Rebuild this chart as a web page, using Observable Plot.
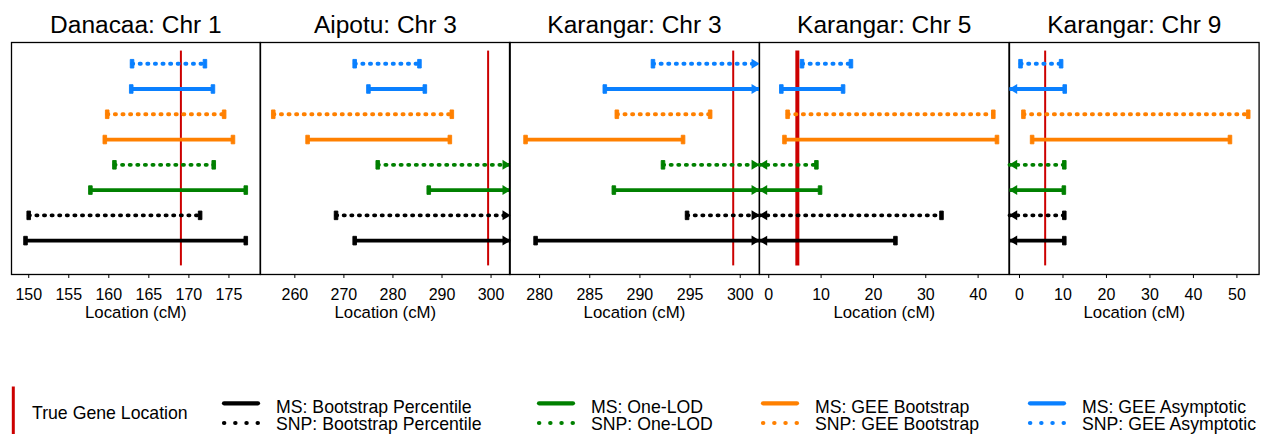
<!DOCTYPE html>
<html><head><meta charset="utf-8">
<script src="https://cdn.jsdelivr.net/npm/d3@7"></script>
<script src="https://cdn.jsdelivr.net/npm/@observablehq/plot@0.6"></script>
<style>
body{margin:0;background:#fff;font-family:"Liberation Sans",Arial,sans-serif;}
#wrap{position:relative;width:1262px;height:434px;overflow:hidden;background:#fff;}
#wrap svg{position:absolute;overflow:visible;background:transparent;}
</style></head><body><div id="wrap"></div>
<script>
// ---- data ----
const methods = ["MS: Bootstrap Percentile","SNP: Bootstrap Percentile","MS: One-LOD","SNP: One-LOD",
                 "MS: GEE Bootstrap","SNP: GEE Bootstrap","MS: GEE Asymptotic","SNP: GEE Asymptotic"];
const methodColors = ["#000000","#000000","#008000","#008000","#ff8000","#ff8000","#0a80ff","#0a80ff"];
const methodDotted = [false,true,false,true,false,true,false,true];
const panelTitles = ["Danacaa: Chr 1","Aipotu: Chr 3","Karangar: Chr 3","Karangar: Chr 5","Karangar: Chr 9"];
const trueLocations = [169.0, 299.4, 299.3, 5.46, 5.9];
// null = interval runs beyond the plotted range (drawn as an arrow)
const lowerDanacaaChr1 = [149.6, 150.0, 157.7, 160.7, 159.5, 159.8, 162.8, 162.9];
const upperDanacaaChr1 = [177.1, 171.4, 177.1, 173.1, 175.5, 174.4, 173.0, 172.0];
const lowerAipotuChr3  = [272.2, 268.4, 287.3, 276.9, 262.6, 255.6, 275.0, 272.2];
const upperAipotuChr3  = [null, null, null, null, 291.6, 292.0, 286.5, 285.4];
const lowerKarangarChr3 = [279.6, 294.7, 287.4, 292.3, 278.6, 287.7, 286.5, 291.3];
const upperKarangarChr3 = [null, null, null, null, 294.3, 297.0, null, null];
const lowerKarangarChr5 = [null, null, null, null, 3.0, 3.6, 2.4, 6.35];
const upperKarangarChr5 = [24.2, 33.0, 9.8, 9.1, 43.6, 42.9, 14.2, 15.7];
const lowerKarangarChr9 = [null, null, null, null, 2.9, 0.9, null, 0.23];
const upperKarangarChr9 = [10.3, 10.3, 10.2, 10.3, 48.4, 52.6, 10.4, 9.57];
const xDomains = [[147.85, 178.9],[253.0, 303.9],[277.0, 301.9],[-1.77, 45.9],[-2.3, 55.1]];
const xTicks = [[150,155,160,165,170,175],[260,270,280,290,300],[280,285,290,295,300],[0,10,20,30,40],[0,10,20,30,40,50]];

const lowers = [lowerDanacaaChr1, lowerAipotuChr3, lowerKarangarChr3, lowerKarangarChr5, lowerKarangarChr9];
const uppers = [upperDanacaaChr1, upperAipotuChr3, upperKarangarChr3, upperKarangarChr5, upperKarangarChr9];

// ---- layout ----
const frameLeft = [11, 259.7, 509.4, 759.2, 1008.7];
const frameWidth = [248.7, 249.7, 249.8, 249.5, 249.6];
const trueWidth = [2, 2, 2, 4, 2];
const pad = 15;

const arrowRight = {draw(c){c.moveTo(0.5,0);c.lineTo(-7.7,-5);c.lineTo(-7.7,5);c.closePath();}};
const arrowLeft  = {draw(c){c.moveTo(-0.5,0);c.lineTo(7.7,-5);c.lineTo(7.7,5);c.closePath();}};
const capBar     = {draw(c){c.moveTo(-1.8,-4.3);c.lineTo(1.8,-4.3);c.lineTo(1.8,4.3);c.lineTo(-1.8,4.3);c.closePath();}};

const wrap = document.getElementById("wrap");

panelTitles.forEach((title, p) => {
  const [d0, d1] = xDomains[p];
  const rows = methods.map((m, i) => ({
    method: m, row: i + 1, color: methodColors[i], dotted: methodDotted[i],
    lo: lowers[p][i], hi: uppers[p][i],
    x1: lowers[p][i] == null ? d0 : lowers[p][i],
    x2: uppers[p][i] == null ? d1 : uppers[p][i]
  }));
  const solid = rows.filter(d => !d.dotted), dotted = rows.filter(d => d.dotted);
  const caps = rows.flatMap(d => [
    ...(d.lo != null ? [{x: d.lo, row: d.row, color: d.color}] : []),
    ...(d.hi != null ? [{x: d.hi, row: d.row, color: d.color}] : [])]);
  const leftArrows = rows.filter(d => d.lo == null);
  const rightArrows = rows.filter(d => d.hi == null);

  const chart = Plot.plot({
    width: frameWidth[p] + 2 * pad, height: 330,
    marginLeft: pad, marginRight: pad, marginTop: 42, marginBottom: 56,
    style: {background: "transparent", overflow: "visible", fontFamily: "'Liberation Sans', Arial, sans-serif", fontSize: "16px", color: "#000"},
    x: {domain: xDomains[p], ticks: xTicks[p], tickSize: 4, tickPadding: 10.5, label: null},
    y: {domain: [-0.34, 8.84], axis: null},
    marks: [
      Plot.frame({stroke: "#000", strokeWidth: 1.3}),
      Plot.ruleX([trueLocations[p]], {x: d => d, y1: 0, y2: 8.5, stroke: "#cc0000", strokeWidth: trueWidth[p]}),
      Plot.link(solid, {x1: "x1", x2: "x2", y1: "row", y2: "row", stroke: "color", strokeWidth: 3.8}),
      Plot.link(dotted, {x1: "x1", x2: "x2", y1: "row", y2: "row", stroke: "color", strokeWidth: 3.8,
                         strokeDasharray: "1.2 6.4", strokeLinecap: "round"}),
      Plot.dot(caps, {x: "x", y: "row", fill: "color", stroke: "color", strokeWidth: 0.9, strokeLinejoin: "round", symbol: capBar}),
      Plot.dot(leftArrows, {x: "x1", y: "row", fill: "color", symbol: arrowLeft}),
      Plot.dot(rightArrows, {x: "x2", y: "row", fill: "color", symbol: arrowRight}),
      Plot.text([title], {frameAnchor: "top", dy: -17, fontSize: 24.5, lineAnchor: "middle", fill: "#000"}),
      Plot.text(["Location (cM)"], {frameAnchor: "bottom", dy: 38, fontSize: 16.8, lineAnchor: "middle", fill: "#000"})
    ]
  });
  chart.style.left = (frameLeft[p] - pad) + "px";
  chart.style.top = "0px";
  wrap.appendChild(chart);
});

// ---- legend ----
const legendX = [222, 537, 761, 1028];
const lg = d3.select(wrap).append("svg").attr("width", 1262).attr("height", 54)
  .style("left", "0px").style("top", "380px")
  .style("font-family", "'Liberation Sans', Arial, sans-serif").style("font-size", "17.7px");
lg.append("line").attr("x1", 13.3).attr("x2", 13.3).attr("y1", 6.5).attr("y2", 60)
  .attr("stroke", "#cc0000").attr("stroke-width", 3);
lg.append("text").attr("x", 32).attr("y", 39).text("True Gene Location");
[0, 2, 4, 6].forEach((m, k) => {
  const x = legendX[k];
  lg.append("line").attr("x1", x + 2).attr("x2", x + 36).attr("y1", 23.3).attr("y2", 23.3)
    .attr("stroke", methodColors[m]).attr("stroke-width", 4.2).attr("stroke-linecap", "round");
  lg.append("line").attr("x1", x + 2).attr("x2", x + 37).attr("y1", 43).attr("y2", 43)
    .attr("stroke", methodColors[m + 1]).attr("stroke-width", 4.2).attr("stroke-linecap", "round")
    .attr("stroke-dasharray", "0.3 10.9");
  lg.append("text").attr("x", x + 54).attr("y", 32.5).text(methods[m]);
  lg.append("text").attr("x", x + 54).attr("y", 50.3).text(methods[m + 1]);
});
</script></body></html>
